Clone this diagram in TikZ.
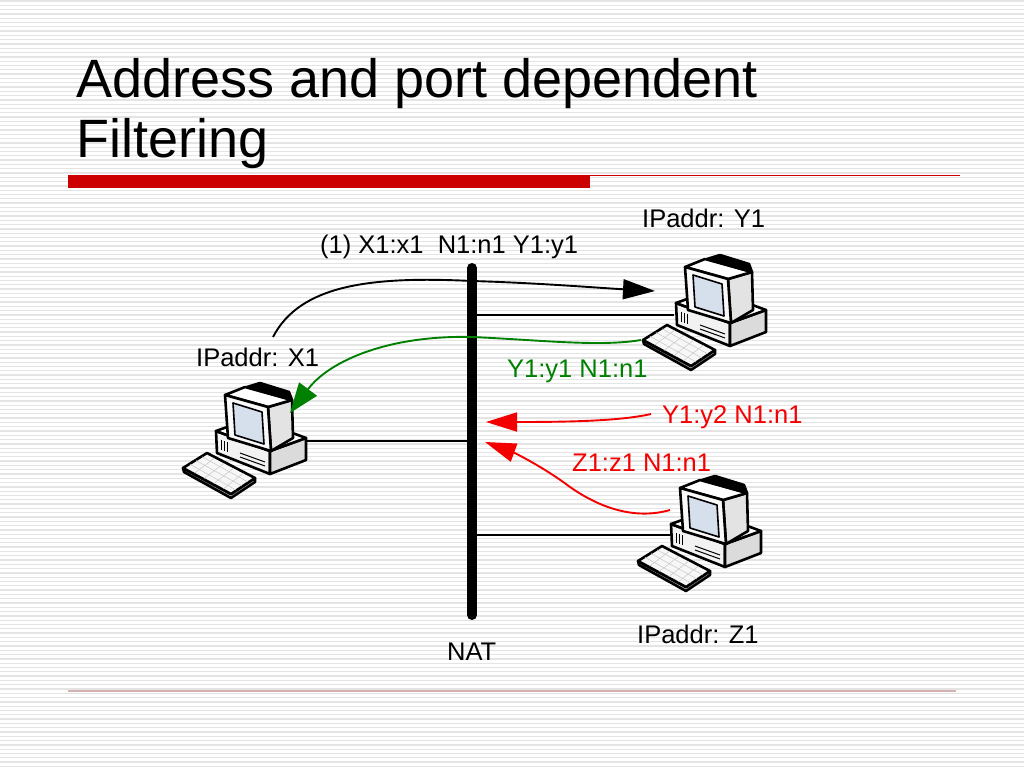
\documentclass[tikz,border=0pt]{standalone}
\usepackage{fontspec}
\setmainfont{Liberation Sans}
\usetikzlibrary{arrows.meta}
\definecolor{stripe}{RGB}{228,228,228}
\definecolor{titlered}{RGB}{204,0,0}
\definecolor{footline}{RGB}{212,176,176}
\definecolor{arrgreen}{RGB}{0,128,0}
\definecolor{arrred}{RGB}{245,0,0}
\definecolor{screen}{RGB}{214,224,236}
\tikzset{
  stripeline/.style={draw=stripe, line width=1.3pt},
  pcline/.style={draw=black, line width=2.6pt, line join=round},
  keyline/.style={draw=gray!45, line width=0.5pt},
  lbl/.style={font=\fontsize{25.5}{30}\selectfont, anchor=base west, inner sep=0pt},
  ttl/.style={font=\fontsize{54}{60}\selectfont, anchor=base west, inner sep=0pt},
  cable/.style={draw=black, line width=1.8pt},
  conn/.style={line width=1.9pt},
  computer/.pic={
    % keyboard
    \filldraw[pcline, fill=gray!40] (-2,92) -- (-1,96) -- (46,122) -- (70,106) -- (70,102) -- (46,118) -- cycle;
    \filldraw[pcline, fill=gray!6] (-2,92) -- (22,77) -- (70,102) -- (46,118) -- cycle;
    \foreach \t in {0.25,0.5,0.75}
      \draw[keyline] ({-2+24*\t+1},{92-15*\t}) -- ({46+24*\t-1},{118-16*\t});
    \foreach \s in {0.2,0.4,0.6,0.8}
      \draw[keyline] ({-2+48*\s+2},{92+26*\s}) -- ({22+48*\s-2},{77+25*\s});
    % base unit
    \filldraw[pcline, fill=gray!10] (31,55) -- (85,75) -- (85,98) -- (32,77) -- cycle;
    \filldraw[pcline, fill=gray!28] (85,75) -- (121,62) -- (121,84) -- (85,98) -- cycle;
    \filldraw[pcline, fill=white] (31,55) -- (67,42) -- (121,62) -- (85,75) -- cycle;
    \draw[black, line width=1pt] (55,77) -- (80,86) (55,81) -- (80,90);
    \draw[black, line width=1pt] (36,64) -- (36,74) (39,65) -- (39,75) (42,66) -- (42,76);
    % monitor
    \filldraw[pcline, fill=gray!22] (83,31) -- (107,24) -- (108,62) -- (86,75) -- cycle;
    \filldraw[pcline, fill=white] (40,19) -- (60,11) -- (107,24) -- (83,31) -- cycle;
    \filldraw[pcline, fill=black] (62,11) -- (75,7) -- (104,16) -- (107,24) -- cycle;
    \filldraw[pcline, fill=gray!5] (40,19) -- (83,31) -- (86,75) -- (43,62) -- cycle;
    \filldraw[draw=black, line width=1.6pt, line join=round, fill=screen] (48,27) -- (77,36) -- (79,68) -- (50,59) -- cycle;
  }
}
\begin{document}
\begin{tikzpicture}[x=1pt,y=-1pt]
\useasboundingbox (0,0) rectangle (1024,768);
\fill[white] (0,0) rectangle (1024,768);
% background stripes
\foreach \i in {0,...,178}
  \draw[stripeline] (0,{\i*4.3+1}) -- (1024,{\i*4.3+1});
% title
\node[ttl] (title1) at (76,97) {Address and port dependent};
\node[ttl] (title2) at (76,157) {Filtering};
\fill[titlered] (68,175) rectangle (590,188);
\draw[titlered, line width=1.3pt] (590,175.6) -- (960,175.6);
\draw[footline, line width=1.5pt] (68,691) -- (956,691);
% computers
\pic (pcX) at (185,376) {computer};
\pic (pcY) at (645,248) {computer};
\pic (pcZ) at (640,469) {computer};
% NAT bar
\coordinate (nattop) at (472,268);
\coordinate (natbot) at (472,615);
\draw[line width=10pt, line cap=round] (nattop) -- (natbot);
% cable endpoints
\coordinate (portX) at (306,441);
\coordinate (natX) at (472,441);
\coordinate (portY) at (674,315);
\coordinate (natY) at (472,315);
\coordinate (portZ) at (671,535);
\coordinate (natZ) at (472,535);
\draw[cable] (portX) -- (natX);
\draw[cable] (natY) -- (portY);
\draw[cable] (natZ) -- (portZ);
% labels
\node[lbl] (lblout) at (320,253) {(1) X1:x1\ \ N1:n1 Y1:y1};
\node[lbl] (ipY) at (642,227) {IPaddr: Y1};
\node[lbl] (ipX) at (196,366) {IPaddr: X1};
\node[lbl, text=arrgreen] (lblgreen) at (507,377) {Y1:y1 N1:n1};
\node[lbl, text=arrred] (lblred1) at (662,423) {Y1:y2 N1:n1};
\node[lbl, text=arrred] (lblred2) at (572,471) {Z1:z1 N1:n1};
\node[lbl] (ipZ) at (637,643) {IPaddr: Z1};
\node[lbl] (natlbl) at (447,660) {NAT};
% connector endpoints
\coordinate (sendX) at (273,337);
\coordinate (tipY) at (655,291);
\coordinate (sendY) at (641,340);
\coordinate (tipX) at (290,413);
\coordinate (sendY2) at (651,414);
\coordinate (tipN1) at (486,422);
\coordinate (sendZ) at (670,510);
\coordinate (tipN2) at (485,442);
% connectors
\draw[conn, black, -{Triangle[length=32pt,width=20pt]}]
  (sendX) .. controls (300,285) and (370,276) .. (472,281)
          .. controls (540,283) and (600,288) .. (tipY);
\draw[conn, arrgreen, -{Triangle[length=30pt,width=22pt]}]
  (sendY) .. controls (600,347) and (540,340) .. (472,337)
          .. controls (390,335) and (330,360) .. (tipX);
\draw[conn, arrred, -{Triangle[length=31pt,width=19pt]}]
  (sendY2) .. controls (620,421) and (570,422) .. (tipN1);
\draw[conn, arrred, -{Triangle[length=31pt,width=19pt]}]
  (sendZ) .. controls (635,520) and (600,508) .. (570,487)
          .. controls (545,468) and (515,453) .. (tipN2);
\end{tikzpicture}
\end{document}
